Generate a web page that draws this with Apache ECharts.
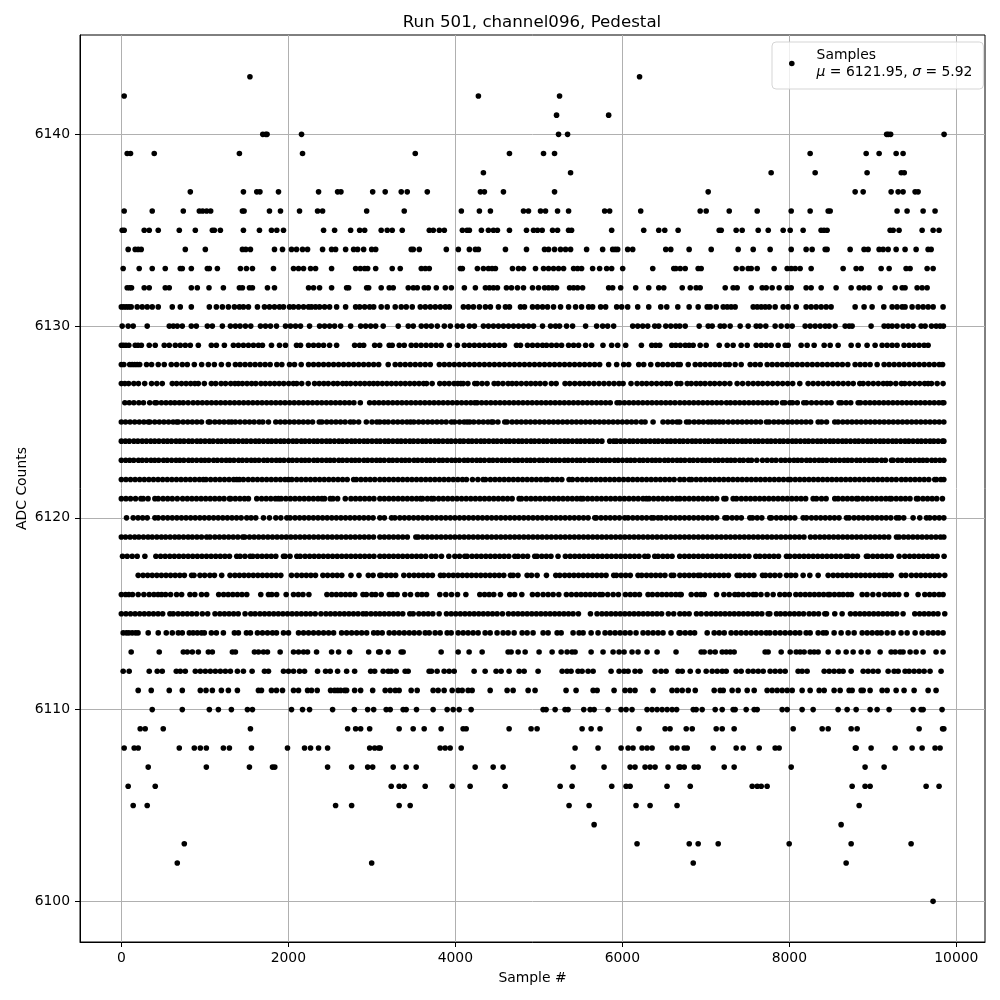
<!DOCTYPE html>
<html><head><meta charset="utf-8">
<script src="https://cdn.jsdelivr.net/npm/echarts@6/dist/echarts.min.js"></script>
<style>html,body{margin:0;padding:0;background:#fff}#c{width:1000px;height:1000px}</style>
</head><body><div id="c"></div>
<script>
const xTicks=[0,2000,4000,6000,8000,10000];
const yTicks=[6100,6110,6120,6130,6140];
const s6143=[1540,6206];
const s6142=[34,4276,5248];
const s6141=[5212,5836];
const s6140=[1694,1730,1745,2158,5236,5344,9165,9185,9213,9853];
const s6139=[70,110,394,1414,2170,3520,4648,5056,5188,8249,8920,9075,9279,9362];
const s6138=[4336,5380,7782,8309,8931,9340,9376];
const s6137=[826,1462,1622,1660,1882,2362,2590,2630,3010,3160,3352,3424,3664,4300,4348,4576,5188,7028,8788,8884,9219,9303,9362,9506,9542];
const s6136=[34,370,742,934,974,1022,1070,1450,1470,1774,1906,2134,2350,2410,2938,3388,4072,4288,4420,4816,4876,5020,5080,5224,5356,5788,5848,6220,6932,7004,7280,7615,8022,8249,8465,8489,9290,9410,9602,9745];
const s6135=[10,34,274,334,442,694,886,1090,1114,1186,1462,1654,1798,1862,1942,2422,2554,2746,2854,2914,3112,3184,3244,3364,3688,3736,3808,3868,4084,4140,4168,4312,4396,4456,4504,4648,4852,4936,4984,5040,5164,5224,5356,5392,5872,6256,6436,6508,6668,7160,7184,7363,7435,7627,7747,7926,8010,8165,8380,8415,8452,9207,9243,9314,9590,9722,9793];
const s6134=[82,166,202,238,766,1006,1450,1490,1546,1834,1930,2038,2098,2170,2230,2410,2518,2566,2686,2782,2830,2902,2998,3046,3472,3496,3568,3892,4036,4168,4240,4276,4600,4852,5068,5116,5188,5260,5320,5380,5572,5764,5884,5915,5944,6064,6124,6520,6580,6800,7064,7387,7567,7770,8022,8201,8273,8429,8452,8728,8895,8943,9075,9123,9183,9279,9386,9518,9662,9698];
const s6133=[22,214,370,526,706,730,838,1030,1054,1150,1426,1498,1570,1822,2062,2122,2182,2266,2326,2518,2806,2862,2914,2950,3046,3244,3340,3592,3640,3688,4060,4084,4264,4336,4396,4440,4480,4684,4756,4816,4960,5056,5116,5176,5236,5296,5416,5464,5512,5644,5728,5812,5872,6004,6364,6616,6640,6693,6753,6908,6944,7363,7435,7507,7543,7615,7818,7974,8022,8070,8129,8261,8644,8800,8860,9099,9195,9398,9446,9650,9722];
const s6132=[70,100,122,274,334,526,574,838,910,1050,1222,1414,1450,1534,1570,1750,1834,2242,2302,2374,2518,2698,2722,2938,2962,3112,3208,3256,3436,3496,3544,3628,3676,3772,3880,3952,4108,4240,4360,4408,4456,4504,4612,4672,4744,4816,4924,4996,5068,5116,5164,5212,5368,5416,5464,5524,5836,5884,5980,6160,6316,6436,6496,6717,6813,6884,6932,7232,7327,7375,7543,7675,7723,7794,7878,7974,8022,8201,8261,8381,8560,8740,8836,8895,8955,9087,9267,9351,9386,9530,9590,9650];
const s6131=[0,30,60,90,118,190,250,310,370,442,610,706,838,1054,1138,1210,1282,1354,1414,1462,1522,1630,1714,1774,1834,1894,1942,2014,2062,2122,2182,2242,2278,2326,2374,2434,2494,2578,2686,2806,2854,2914,2974,3022,3112,3184,3280,3352,3412,3484,3580,3640,3700,3760,3820,3880,3928,4096,4156,4216,4288,4360,4420,4516,4600,4648,4780,4828,4924,4984,5044,5104,5176,5260,5356,5440,5512,5596,5644,5740,5800,5932,5992,6064,6184,6316,6460,6532,6664,6800,6908,7016,7052,7124,7208,7256,7303,7351,7567,7615,7663,7711,7759,7830,7926,7986,8082,8201,8261,8321,8381,8441,8500,8788,8895,8991,9131,9231,9290,9351,9386,9470,9542,9602,9662,9722,9841];
const s6130=[10,82,142,310,574,622,670,730,838,898,1030,1090,1210,1306,1366,1422,1486,1550,1666,1726,1786,1858,1966,2026,2086,2146,2254,2374,2434,2494,2554,2626,2746,2866,2926,2986,3046,3136,3316,3436,3496,3592,3652,3712,3784,3868,3940,4024,4084,4168,4228,4336,4396,4456,4516,4576,4636,4696,4756,4816,4876,4936,5044,5140,5200,5248,5332,5404,5560,5692,5764,5824,5896,6124,6184,6244,6304,6388,6436,6520,6580,6640,6688,6753,6920,7028,7076,7172,7220,7291,7411,7507,7603,7651,7718,7830,7902,7974,8034,8189,8249,8309,8369,8429,8477,8548,8668,8716,8752,8979,9135,9183,9231,9290,9362,9422,9482,9578,9626,9702,9758,9805,9845];
const s6129=[0,25,55,90,166,200,240,334,406,514,574,646,706,766,826,922,1078,1138,1234,1342,1402,1462,1522,1582,1642,1690,1798,1894,1966,2098,2146,2242,2302,2362,2422,2494,2578,2794,2854,2902,3034,3094,3208,3244,3328,3388,3472,3530,3590,3650,3710,3770,3830,3928,4024,4108,4168,4228,4288,4348,4408,4468,4528,4588,4732,4780,4864,4924,4984,5044,5092,5152,5212,5272,5356,5416,5476,5560,5632,5768,5872,5944,6040,6228,6352,6400,6448,6592,6640,6693,6753,6800,6848,6932,7004,7160,7256,7327,7423,7495,7603,7663,7723,7782,7866,7950,7986,8141,8213,8297,8417,8489,8584,8740,8824,8931,9027,9111,9171,9231,9290,9374,9434,9494,9554,9614,9662];
const s6128=[0,30,100,130,160,190,220,302,362,442,514,598,662,730,790,874,962,1042,1114,1198,1282,1366,1422,1482,1542,1602,1662,1722,1782,1862,1922,2014,2074,2154,2242,2302,2362,2422,2482,2542,2602,2662,2722,2782,2842,2902,2962,3022,3082,3196,3280,3340,3400,3460,3520,3580,3640,3700,3808,3868,3928,3988,4048,4108,4168,4228,4288,4348,4408,4468,4528,4588,4648,4708,4768,4828,4888,4948,5008,5068,5128,5188,5248,5308,5368,5428,5488,5548,5608,5668,5728,5836,5932,6016,6076,6196,6256,6340,6424,6484,6544,6604,6664,6693,6789,6873,6933,6993,7053,7110,7165,7232,7280,7351,7423,7531,7591,7651,7735,7795,7855,7915,7975,8035,8095,8155,8215,8275,8335,8395,8455,8515,8575,8635,8700,8788,8848,8907,8967,9051,9135,9195,9255,9315,9375,9435,9495,9555,9615,9675,9735,9795,9835];
const s6127=[0,42,88,150,205,280,362,425,490,610,662,720,775,830,880,922,994,1078,1130,1195,1248,1310,1360,1402,1450,1505,1560,1610,1672,1725,1780,1835,1890,1945,2005,2060,2100,2160,2238,2314,2370,2425,2478,2540,2590,2650,2696,2746,2805,2860,2915,2970,3020,3070,3125,3180,3235,3290,3345,3400,3455,3510,3565,3620,3655,3722,3814,3870,3925,3985,4030,4066,4094,4150,4233,4261,4320,4380,4465,4512,4570,4632,4680,4732,4790,4850,4905,4960,5015,5075,5150,5207,5314,5370,5430,5490,5545,5600,5660,5720,5780,5840,5900,5960,6009,6104,6176,6235,6290,6350,6410,6470,6527,6575,6655,6700,6777,6825,6884,6936,6990,7050,7105,7165,7225,7287,7375,7440,7507,7567,7625,7680,7740,7800,7860,7920,7980,8040,8125,8225,8285,8345,8405,8465,8525,8585,8645,8705,8765,8844,8884,8945,9005,9065,9125,9171,9211,9275,9342,9382,9440,9500,9560,9620,9662,9702,9770,9841];
const s6126=[42,95,150,210,265,340,402,422,480,535,590,640,694,742,800,860,915,970,1025,1080,1135,1190,1245,1300,1355,1410,1465,1520,1575,1630,1685,1740,1795,1850,1905,1960,2015,2070,2125,2180,2235,2290,2345,2400,2455,2510,2565,2620,2675,2730,2785,2862,2974,3030,3085,3140,3195,3250,3305,3360,3415,3470,3525,3580,3635,3690,3745,3800,3855,3910,3965,4020,4075,4130,4185,4233,4261,4315,4370,4425,4480,4535,4590,4645,4700,4755,4810,4865,4920,4975,5030,5085,5140,5195,5250,5305,5360,5415,5470,5525,5580,5635,5690,5745,5800,5855,5937,5969,6025,6080,6135,6190,6245,6300,6355,6410,6465,6520,6575,6630,6689,6745,6800,6855,6910,6965,7020,7075,7130,7185,7247,7295,7350,7405,7460,7515,7570,7625,7680,7735,7790,7845,7918,7946,8006,8038,8095,8173,8205,8265,8325,8385,8445,8500,8596,8624,8680,8735,8824,8852,8910,8965,9020,9075,9130,9185,9240,9295,9350,9405,9460,9515,9570,9625,9680,9735,9790,9850,9835];
const s6125=[0,50,105,160,215,270,322,342,400,455,510,565,620,662,682,740,795,850,905,960,1042,1062,1120,1175,1230,1285,1322,1366,1422,1480,1535,1590,1650,1694,1762,1850,1905,1960,2015,2070,2125,2180,2235,2290,2370,2402,2460,2515,2570,2625,2680,2742,2782,2842,2934,3002,3060,3096,3150,3196,3256,3310,3365,3420,3463,3503,3560,3615,3670,3725,3780,3835,3890,3954,3990,4050,4105,4141,4173,4221,4280,4335,4390,4433,4453,4510,4592,4620,4680,4735,4790,4845,4900,4955,5010,5065,5120,5175,5230,5285,5340,5395,5450,5505,5560,5615,5670,5725,5780,5835,5890,5945,6000,6055,6110,6165,6228,6272,6368,6487,6545,6600,6655,6687,6769,6801,6860,6915,6970,7028,7068,7112,7160,7208,7268,7325,7380,7435,7490,7545,7600,7655,7726,7758,7815,7870,7925,7980,8035,8090,8145,8200,8255,8345,8385,8445,8544,8584,8640,8695,8750,8805,8860,8915,8970,9025,9080,9135,9190,9245,9300,9355,9410,9465,9520,9575,9630,9685,9740,9795,9850];
const s6124=[0,48,95,150,198,250,300,352,400,450,505,552,600,655,702,750,805,850,905,950,1002,1055,1100,1155,1200,1252,1305,1350,1402,1455,1500,1552,1605,1650,1702,1755,1800,1852,1905,1950,2002,2055,2100,2155,2200,2252,2305,2350,2402,2455,2500,2552,2605,2650,2702,2755,2800,2852,2905,2950,3002,3055,3100,3155,3200,3252,3305,3350,3402,3455,3500,3552,3605,3650,3702,3755,3800,3852,3905,3950,4002,4055,4100,4155,4200,4252,4305,4350,4402,4455,4500,4552,4605,4650,4702,4755,4800,4852,4905,4950,5002,5055,5100,5155,5200,5252,5305,5350,5402,5455,5500,5552,5605,5650,5702,5755,5849,5897,5930,5980,6030,6085,6130,6182,6235,6280,6332,6385,6430,6482,6535,6580,6632,6685,6730,6782,6835,6880,6932,6985,7030,7082,7135,7180,7232,7285,7330,7382,7435,7480,7532,7585,7630,7682,7735,7780,7832,7885,7930,7982,8035,8080,8132,8185,8230,8282,8335,8380,8432,8485,8530,8582,8635,8680,8732,8785,8830,8882,8935,8980,9032,9085,9130,9182,9235,9280,9332,9385,9430,9482,9535,9580,9632,9685,9730,9782,9850,9835];
const s6123=[0,52,100,148,205,250,302,355,400,448,505,550,602,655,700,748,805,850,902,955,1000,1048,1105,1150,1202,1255,1300,1348,1405,1450,1502,1555,1600,1648,1705,1750,1802,1855,1900,1948,2005,2050,2102,2155,2200,2248,2305,2350,2402,2455,2500,2548,2605,2650,2702,2755,2800,2848,2905,2950,3002,3055,3100,3148,3205,3250,3302,3355,3400,3448,3505,3550,3602,3655,3700,3748,3805,3850,3902,3955,4000,4048,4105,4150,4202,4255,4300,4348,4405,4450,4502,4555,4600,4648,4705,4750,4802,4855,4900,4948,5005,5050,5102,5155,5200,5248,5305,5350,5402,5455,5500,5548,5605,5650,5702,5755,5800,5848,5905,5950,6002,6055,6100,6148,6205,6250,6302,6355,6400,6448,6505,6550,6602,6655,6700,6748,6805,6850,6902,6955,7000,7048,7105,7150,7202,7255,7300,7348,7405,7450,7507,7547,7610,7678,7734,7790,7840,7900,7950,8002,8055,8100,8148,8205,8250,8302,8355,8400,8448,8505,8550,8602,8655,8700,8748,8805,8850,8902,8955,9000,9048,9105,9150,9223,9243,9300,9348,9405,9450,9502,9555,9600,9648,9705,9750,9802,9850];
const s6122=[0,55,110,165,220,275,330,385,440,495,550,605,660,715,770,825,880,935,982,1014,1070,1125,1180,1235,1290,1345,1382,1414,1462,1520,1575,1630,1685,1740,1795,1850,1905,1960,2002,2042,2100,2155,2210,2265,2320,2375,2430,2485,2540,2595,2650,2705,2782,2814,2870,2925,2980,3035,3096,3150,3205,3260,3315,3370,3425,3480,3535,3590,3645,3700,3755,3810,3865,3920,3975,4030,4085,4133,4205,4270,4333,4361,4420,4475,4530,4585,4640,4695,4750,4805,4860,4915,4970,5025,5079,5107,5165,5220,5275,5362,5402,5462,5520,5575,5630,5685,5740,5795,5850,5905,5960,6015,6070,6125,6180,6235,6290,6345,6400,6455,6510,6565,6620,6689,6740,6801,6829,6885,6940,6995,7050,7105,7160,7215,7270,7325,7380,7435,7490,7545,7600,7655,7710,7765,7820,7875,7930,7986,8014,8070,8125,8180,8235,8290,8345,8400,8455,8510,8565,8620,8675,8730,8785,8840,8895,8950,9005,9060,9115,9170,9225,9280,9342,9394,9450,9505,9560,9615,9670,9741,9761,9815,9850];
const s6121=[0,55,110,170,234,262,320,402,442,500,555,610,670,734,790,845,900,955,1010,1065,1120,1175,1230,1294,1310,1365,1420,1475,1522,1622,1680,1735,1790,1845,1882,1914,1970,2025,2080,2135,2190,2245,2300,2355,2402,2434,2502,2534,2590,2682,2750,2805,2860,2915,2970,3025,3096,3150,3205,3260,3315,3370,3425,3480,3535,3583,3607,3665,3714,3742,3800,3855,3910,3965,4020,4075,4130,4185,4240,4295,4350,4405,4460,4515,4570,4625,4680,4764,4792,4850,4905,4960,5015,5070,5125,5180,5235,5290,5345,5400,5455,5502,5530,5585,5640,5695,5750,5805,5860,5915,5970,6025,6080,6135,6190,6248,6288,6320,6375,6430,6485,6540,6595,6650,6689,6745,6800,6855,6910,6965,7020,7075,7130,7216,7240,7327,7367,7425,7480,7535,7590,7645,7700,7755,7810,7865,7920,7975,8030,8085,8140,8195,8285,8325,8385,8440,8544,8584,8640,8695,8750,8804,8824,8880,8935,8990,9045,9100,9155,9203,9223,9280,9335,9390,9445,9522,9542,9600,9655,9710,9765,9833];
const s6120=[62,142,200,255,310,402,442,500,555,610,665,720,775,830,885,940,995,1050,1105,1160,1215,1270,1325,1380,1435,1502,1554,1610,1702,1774,1850,1910,1982,2022,2080,2135,2190,2245,2300,2355,2410,2465,2520,2575,2630,2685,2740,2795,2850,2905,2960,3015,3096,3150,3236,3276,3335,3390,3445,3500,3555,3610,3665,3720,3775,3830,3885,3940,3995,4050,4105,4160,4215,4270,4325,4380,4435,4490,4545,4600,4655,4710,4765,4820,4875,4930,4985,5040,5095,5150,5205,5260,5315,5370,5425,5480,5535,5590,5670,5689,5745,5800,5855,5910,5965,6029,6069,6125,6180,6235,6290,6348,6376,6428,6468,6525,6580,6635,6689,6745,6800,6855,6910,6965,7020,7075,7130,7228,7256,7315,7370,7425,7527,7559,7615,7670,7766,7786,7845,7900,7955,8010,8065,8165,8205,8265,8320,8375,8430,8485,8540,8595,8684,8716,8775,8830,8885,8940,8995,9050,9105,9160,9215,9283,9314,9370,9482,9562,9642,9682,9740,9795,9850];
const s6119=[0,50,105,160,210,265,320,370,425,480,530,585,640,690,745,800,850,905,960,1022,1062,1120,1175,1230,1285,1340,1395,1454,1478,1535,1590,1645,1700,1755,1810,1865,1920,1975,2030,2085,2140,2195,2250,2305,2360,2415,2470,2525,2580,2635,2690,2745,2800,2855,2910,2965,3020,3096,3150,3205,3260,3315,3370,3425,3527,3555,3610,3665,3720,3775,3830,3885,3940,3995,4050,4105,4160,4215,4270,4325,4380,4435,4490,4545,4600,4655,4710,4765,4820,4875,4930,4985,5040,5095,5150,5205,5260,5315,5370,5425,5480,5535,5590,5645,5700,5755,5810,5865,5920,5975,6030,6085,6140,6195,6250,6305,6360,6415,6470,6525,6580,6635,6689,6745,6800,6855,6910,6965,7020,7075,7130,7185,7240,7295,7350,7405,7460,7515,7570,7625,7680,7735,7790,7845,7900,7955,8010,8065,8120,8175,8253,8309,8365,8420,8475,8530,8585,8640,8695,8750,8805,8860,8915,8970,9025,9080,9135,9190,9283,9314,9370,9425,9480,9535,9590,9645,9700,9755,9810,9850];
const s6118=[14,70,130,190,282,414,470,525,580,635,690,745,800,855,910,965,1020,1075,1130,1185,1240,1295,1382,1422,1480,1542,1574,1630,1685,1740,1795,1850,1942,1962,2020,2102,2142,2200,2255,2310,2365,2420,2475,2530,2585,2640,2695,2750,2805,2860,2915,2970,3025,3096,3150,3205,3260,3315,3370,3425,3480,3535,3590,3645,3714,3766,3834,3922,3994,4050,4113,4141,4200,4255,4310,4365,4420,4475,4530,4585,4640,4712,4752,4810,4865,4951,4979,5035,5090,5145,5230,5318,5375,5430,5485,5540,5595,5650,5705,5760,5815,5870,5925,5980,6035,6090,6145,6200,6268,6308,6388,6428,6485,6540,6595,6687,6745,6800,6855,6910,6965,7020,7075,7130,7185,7240,7295,7350,7405,7460,7515,7599,7647,7705,7760,7815,7870,7966,8006,8065,8120,8175,8230,8285,8340,8395,8450,8505,8560,8615,8676,8704,8760,8815,8923,8943,9000,9055,9110,9165,9220,9314,9382,9440,9495,9550,9605,9660,9715,9770,9853];
const s6117=[202,260,315,370,425,480,535,590,645,700,755,842,870,942,998,1060,1115,1202,1302,1360,1415,1470,1525,1580,1635,1690,1745,1800,1855,1910,2038,2102,2160,2215,2270,2325,2414,2470,2530,2585,2640,2750,2846,2958,3015,3096,3116,3175,3230,3285,3383,3447,3505,3560,3615,3670,3725,3822,3862,3920,3975,4030,4085,4140,4195,4250,4305,4360,4415,4470,4525,4580,4660,4692,4750,4860,4912,4979,5091,5203,5251,5310,5365,5420,5475,5530,5585,5640,5695,5750,5805,5897,5929,5985,6040,6095,6188,6232,6290,6345,6400,6455,6510,6587,6615,6689,6745,6800,6855,6908,6936,6995,7050,7105,7160,7215,7270,7375,7407,7465,7520,7575,7679,7714,7770,7826,7886,7966,8020,8075,8165,8245,8345,8465,8525,8580,8635,8690,8745,8800,8855,8910,8965,9020,9075,9123,9163,9220,9342,9394,9462,9520,9575,9630,9685,9740,9795,9861];
const s6116=[0,50,90,134,202,270,334,390,440,482,530,590,662,722,822,880,960,1022,1166,1225,1280,1335,1390,1445,1502,1670,1762,1802,1860,1974,2062,2120,2175,2246,2462,2520,2575,2630,2685,2740,2795,2894,2934,3000,3046,3112,3208,3250,3303,3395,3463,3547,3600,3655,3814,3886,3954,4026,4126,4293,4350,4405,4460,4540,4652,4710,4796,4923,4985,5051,5111,5171,5239,5330,5390,5450,5505,5560,5615,5670,5729,5761,5825,5890,5953,6037,6095,6150,6205,6308,6360,6420,6475,6530,6585,6640,6689,6705,6825,6889,6940,6980,7128,7216,7280,7347,7391,7447,7510,7567,7599,7660,7734,7806,7886,7945,8000,8078,8133,8190,8245,8300,8355,8410,8465,8484,8540,8596,8644,8700,8744,8872,8930,9000,9071,9143,9200,9255,9310,9402,9542,9622,9680,9735,9793,9841];
const s6115=[0,55,110,165,220,275,330,385,440,495,582,622,680,735,790,845,902,970,1034,1122,1180,1235,1290,1345,1400,1482,1550,1602,1660,1715,1770,1825,1880,1935,1990,2045,2100,2155,2210,2265,2322,2390,2450,2505,2560,2615,2670,2725,2780,2835,2894,2934,2990,3045,3096,3150,3205,3260,3315,3370,3455,3495,3563,3620,3675,3730,3806,3894,3950,4005,4060,4115,4170,4225,4280,4335,4390,4445,4500,4564,4636,4695,4750,4805,4860,4915,4970,5025,5080,5135,5190,5245,5300,5355,5410,5474,5618,5697,5755,5810,5865,5920,5975,6030,6085,6140,6195,6250,6305,6360,6415,6470,6551,6615,6689,6745,6800,6888,6944,7008,7065,7120,7175,7230,7285,7340,7395,7450,7505,7560,7615,7670,7746,7766,7846,7894,7950,8005,8060,8115,8170,8237,8293,8350,8425,8445,8544,8632,8732,8790,8845,8900,8955,9010,9065,9120,9175,9230,9285,9362,9502,9560,9615,9670,9725,9780,9861];
const s6114=[22,60,90,130,170,200,322,442,538,610,682,730,814,860,910,960,994,1078,1138,1222,1354,1402,1498,1546,1630,1690,1750,1810,1858,1942,2002,2122,2182,2242,2302,2362,2422,2482,2542,2638,2698,2758,2818,2878,2938,3022,3070,3124,3208,3268,3328,3388,3448,3507,3567,3639,3687,3758,3818,3902,3950,4034,4094,4153,4213,4273,4357,4417,4500,4572,4632,4704,4800,4860,4931,5051,5111,5219,5267,5410,5482,5530,5626,5709,5793,5853,5913,5973,6033,6093,6164,6248,6308,6368,6428,6487,6583,6679,6693,6753,6813,6865,7016,7100,7160,7220,7303,7363,7423,7483,7543,7603,7663,7723,7767,7830,7890,7950,8010,8070,8125,8201,8249,8345,8405,8441,8536,8620,8704,8776,8872,8932,8992,9052,9100,9171,9243,9338,9410,9506,9590,9662,9722,9781,9841];
const s6113=[118,454,742,790,850,922,1042,1090,1330,1366,1594,1642,1702,1750,1902,2062,2122,2182,2230,2338,2518,2602,2734,2962,3082,3100,3196,3351,3375,3830,4034,4165,4321,4632,4668,4752,4836,5003,5159,5267,5338,5398,5434,5626,5769,5889,5961,6021,6116,6188,6296,6416,6643,6944,6980,7052,7112,7196,7244,7292,7339,7710,7746,7902,8010,8082,8129,8177,8249,8297,8345,8465,8584,8680,8764,8860,8943,9087,9219,9267,9326,9362,9446,9518,9602,9757,9841];
const s6112=[22,94,334,430,490,658,706,766,886,946,1006,1066,1126,1186,1246,1306,1390,1462,1566,1714,1762,1942,2002,2062,2134,2194,2350,2446,2502,2590,2698,2794,2986,3034,3136,3196,3232,3292,3399,3435,3686,3714,3782,3866,3926,3986,4225,4357,4488,4548,4644,4764,4824,4991,5279,5338,5386,5470,5518,5590,5650,5865,5961,6021,6069,6152,6212,6392,6464,6524,6667,6717,6813,6908,7004,7076,7136,7196,7244,7363,7423,7507,7567,7627,7687,7770,7830,7890,7950,8105,8153,8213,8417,8477,8536,8596,8644,8740,8884,8943,9003,9063,9183,9255,9303,9386,9434,9494,9554,9614,9685,9817];
const s6111=[202,358,574,730,946,1014,1090,1198,1282,1390,1642,1678,1798,1858,1930,2062,2122,2230,2278,2346,2506,2554,2590,2626,2674,2698,2794,2866,3010,3160,3220,3280,3327,3471,3543,3734,3794,3866,3962,4034,4082,4153,4201,4417,4620,4692,4872,4955,5326,5446,5650,5698,5901,6032,6092,6152,6368,6595,6655,6717,6789,6873,7100,7172,7208,7315,7387,7495,7579,7734,7794,7854,7914,7974,8034,8153,8249,8357,8417,8536,8608,8716,8752,8860,8884,8967,9111,9171,9279,9374,9494,9662,9757];
const s6110=[370,730,1054,1162,1318,1510,1570,2038,2170,2254,2530,2790,2950,3022,3172,3220,3375,3411,3535,3734,3902,3974,4046,4189,5051,5087,5195,5314,5350,5538,5614,5662,5829,5985,6045,6116,6296,6356,6416,6476,6536,6596,6650,6849,6884,6956,7112,7196,7327,7351,7483,7579,7615,7914,7974,8153,8285,8584,8692,8800,8967,9051,9195,9482,9578,9602,9829];
const s6109=[226,286,502,1546,2710,2806,2866,2974,3327,3495,3627,3830,4093,4130,4644,4907,4979,5518,5626,5733,6200,6512,6571,6765,6837,7124,7196,7339,8046,8393,8465,8740,8812,9554,9835,9850];
const s6108=[34,154,202,694,874,946,1018,1222,1294,1558,1990,2194,2266,2362,2470,2974,3034,3082,3100,3818,3878,3938,4070,5434,5709,5985,6069,6128,6236,6296,6356,6595,6655,6741,6777,7088,7363,7447,7639,7830,7878,8790,8800,8979,9267,9470,9590,9745,9805];
const s6107=[322,1018,1534,1810,1838,2470,2758,2950,3010,3256,3411,3531,4237,4453,4572,5410,5781,6093,6152,6272,6332,6392,6547,6679,6693,6741,6861,6908,7220,7339,8022,8907,9135];
const s6106=[82,406,3232,3327,3387,3639,3962,4177,4596,5255,5398,5873,6045,6093,6535,6813,7555,7615,7663,7734,8752,8907,8967,9638,9793];
const s6105=[142,310,2566,2758,3327,3459,5362,5602,6164,6332,6655,8836];
const s6104=[5662,8620];
const s6103=[754,6176,6801,6908,7148,7998,8740,9458];
const s6102=[670,2998,6849,8680];
const s6100=[9721];
const adcLevels=[6143,6142,6141,6140,6139,6138,6137,6136,6135,6134,6133,6132,6131,6130,6129,6128,6127,6126,6125,6124,6123,6122,6121,6120,6119,6118,6117,6116,6115,6114,6113,6112,6111,6110,6109,6108,6107,6106,6105,6104,6103,6102,6100];
const samplesByLevel=[s6143,s6142,s6141,s6140,s6139,s6138,s6137,s6136,s6135,s6134,s6133,s6132,s6131,s6130,s6129,s6128,s6127,s6126,s6125,s6124,s6123,s6122,s6121,s6120,s6119,s6118,s6117,s6116,s6115,s6114,s6113,s6112,s6111,s6110,s6109,s6108,s6107,s6106,s6105,s6104,s6103,s6102,s6100];
const points=[];
adcLevels.forEach((lvl,i)=>samplesByLevel[i].forEach(x=>points.push([x,lvl])));

const font='"DejaVu Sans"';
const axisCommon={
  axisLine:{show:true,onZero:false,lineStyle:{color:'#000',width:1}},
  axisLabel:{color:'#000',fontFamily:font,fontSize:13.9,margin:10,formatter:v=>String(v)},
  axisTick:{show:true,inside:false,length:5,lineStyle:{color:'#000',width:1}},
  splitLine:{show:true,lineStyle:{color:'#b0b0b0',width:1}},
  nameLocation:'middle',nameMoveOverlap:false,
  nameTextStyle:{color:'#000',fontFamily:font,fontSize:13.9}
};
const chart=echarts.init(document.getElementById('c'),null,{renderer:'canvas'});
chart.setOption({
  animation:false,
  backgroundColor:'#fff',
  title:{text:'Run 501, channel096, Pedestal',left:527,top:9,textAlign:'center',
    textStyle:{color:'#000',fontFamily:font,fontSize:16.67,fontWeight:'normal'}},
  grid:{left:80,right:15,top:35,bottom:58,show:true,borderColor:'#000',borderWidth:1,backgroundColor:'transparent'},
  legend:{
    show:true,left:772,top:42,padding:[6,11,10,17],icon:'circle',itemWidth:5.6,itemHeight:5.6,
    backgroundColor:'rgba(255,255,255,0.8)',borderColor:'#d5d5d5',borderWidth:1,borderRadius:4,
    data:['Samples'],
    formatter:()=>'{n|Samples}\n{n|}{i|μ}{n| = 6121.95, }{i|σ}{n| = 5.92}',
    textStyle:{color:'#000',fontFamily:font,fontSize:13.9,padding:[0,0,0,17],
      rich:{n:{fontFamily:font,fontSize:13.9,lineHeight:17,color:'#000'},
            i:{fontFamily:font,fontSize:13.9,fontStyle:'italic',lineHeight:17,color:'#000'}}}
  },
  xAxis:Object.assign({},axisCommon,{type:'value',min:-495,max:10343,name:'Sample #',nameGap:29,
    axisTick:Object.assign({},axisCommon.axisTick,{customValues:xTicks}),
    axisLabel:Object.assign({},axisCommon.axisLabel,{customValues:xTicks,margin:9})}),
  yAxis:Object.assign({},axisCommon,{type:'value',min:6097.88,max:6145.18,name:'ADC Counts',nameGap:51,
    axisTick:Object.assign({},axisCommon.axisTick,{customValues:yTicks}),
    axisLabel:Object.assign({},axisCommon.axisLabel,{customValues:yTicks,padding:[2,0,0,0]})}),
  series:[{name:'Samples',type:'scatter',symbol:'circle',symbolSize:5.6,large:false,
    itemStyle:{color:'#000',opacity:1},emphasis:{disabled:true},data:points,silent:true,z:3}]
});
</script></body></html>
